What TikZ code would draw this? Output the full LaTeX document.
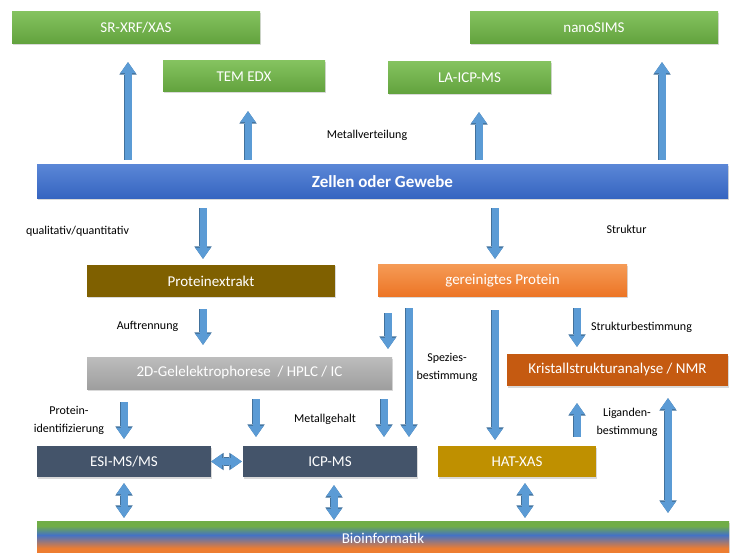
\documentclass[tikz,border=0pt]{standalone}
\usepackage{fontspec}
\setmainfont{Carlito}
\usetikzlibrary{arrows.meta, shadows}
\definecolor{arrowblue}{HTML}{5B9BD5}
\definecolor{arrowedge}{HTML}{41719C}
\definecolor{greentop}{HTML}{84C25F}
\definecolor{greenbot}{HTML}{62A23D}
\definecolor{zellentop}{HTML}{5A86D6}
\definecolor{zellenbot}{HTML}{3564C0}
\definecolor{extraktbrown}{HTML}{7F6000}
\definecolor{proteintop}{HTML}{F59A55}
\definecolor{proteinbot}{HTML}{EC7424}
\definecolor{geltop}{HTML}{BDBDBD}
\definecolor{gelbot}{HTML}{9E9E9E}
\definecolor{kristallorange}{HTML}{C55A11}
\definecolor{msslate}{HTML}{44546A}
\definecolor{hatgold}{HTML}{BF9000}
\definecolor{biogreen}{HTML}{70AD47}
\definecolor{bioblue}{HTML}{4472C4}
\definecolor{bioorange}{HTML}{ED7D31}
\pgfdeclareverticalshading{bioshade}{100bp}{color(0bp)=(bioorange); color(36bp)=(bioorange); color(55bp)=(bioblue); color(68bp)=(biogreen); color(100bp)=(biogreen)}
\tikzset{
  box/.style={rectangle, inner sep=0pt, minimum height=32pt, text=white,
    font=\fontsize{15}{18}\selectfont,
    drop shadow={opacity=0.3, shadow xshift=1pt, shadow yshift=-1.5pt}},
  lbl/.style={font=\fontsize{12}{18}\selectfont, align=center},
  fat/.style={draw=arrowblue, line width=7pt,
    -{Triangle[length=11pt, width=15.5pt, line width=0pt]},
    preaction={draw=arrowedge, line width=8.6pt,
      -{Triangle[length=12.5pt, width=17.5pt, line width=0pt]}}},
  fatboth/.style={draw=arrowblue, line width=7pt,
    {Triangle[length=11pt, width=15.5pt, line width=0pt]}-{Triangle[length=11pt, width=15.5pt, line width=0pt]},
    preaction={draw=arrowedge, line width=8.6pt,
      {Triangle[length=12.5pt, width=17.5pt, line width=0pt]}-{Triangle[length=12.5pt, width=17.5pt, line width=0pt]}}}
}
\begin{document}
\begin{tikzpicture}[x=1pt, y=-1pt]
\useasboundingbox (0,0) rectangle (731,553);
\node[box, minimum width=248pt, top color=greentop, bottom color=greenbot] (srxrf) at (136,28) {SR-XRF/XAS};
\node[box, minimum width=162pt, minimum height=31pt, top color=greentop, bottom color=greenbot] (temedx) at (244,76.5) {TEM EDX};
\node[box, minimum width=163pt, top color=greentop, bottom color=greenbot] (laicp) at (469.5,78) {LA-ICP-MS};
\node[box, minimum width=248pt, top color=greentop, bottom color=greenbot] (nanosims) at (594,28) {nanoSIMS};
\node[box, minimum width=691pt, minimum height=34pt, top color=zellentop, bottom color=zellenbot, font=\fontsize{17}{20}\selectfont\bfseries] (zellen) at (382.5,182) {Zellen oder Gewebe};
\node[box, minimum width=248pt, fill=extraktbrown] (extrakt) at (211,281) {Proteinextrakt};
\node[box, minimum width=249pt, top color=proteintop, bottom color=proteinbot] (gereinigt) at (502.5,281) {gereinigtes Protein};
\node[box, minimum width=305pt, top color=geltop, bottom color=gelbot] (gel) at (239.5,373) {2D-Gelelektrophorese~ / HPLC / IC};
\node[box, minimum width=221pt, fill=kristallorange] (kristall) at (617.5,370) {Kristallstrukturanalyse / NMR};
\node[box, minimum width=174pt, minimum height=31pt, fill=msslate] (esi) at (124,461.5) {ESI-MS/MS};
\node[box, minimum width=174pt, minimum height=31pt, fill=msslate] (icpms) at (330,461.5) {ICP-MS};
\node[box, minimum width=158pt, minimum height=31pt, fill=hatgold] (hatxas) at (517,461.5) {HAT-XAS};
\node[box, minimum width=692pt, minimum height=35pt, shading=bioshade] (bio) at (383,538.5) {Bioinformatik};

\node[lbl] (metall) at (367,135) {Metallverteilung};
\node[lbl] (quali) at (77.5,231) {qualitativ/quantitativ};
\node[lbl] (struktur) at (626.5,229) {Struktur};
\node[lbl] (auftrennung) at (147.5,326) {Auftrennung};
\node[lbl] (strukturbest) at (641.5,327) {Strukturbestimmung};
\node[lbl] (spezies) at (447,367) {Spezies-\\bestimmung};
\node[lbl] (proteinid) at (69,420) {Protein-\\identifizierung};
\node[lbl] (metallgehalt) at (325,419) {Metallgehalt};
\node[lbl] (liganden) at (627,422) {Liganden-\\bestimmung};

\draw[fat, shorten <=5pt, shorten >=18pt] (zellen.north -| 128,0) -- (srxrf.south -| 128,0);
\draw[fat, shorten <=5pt, shorten >=19pt] (zellen.north -| 248,0) -- (temedx.south -| 248,0);
\draw[fat, shorten <=5pt, shorten >=18pt] (zellen.north -| 479,0) -- (laicp.south -| 479,0);
\draw[fat, shorten <=5pt, shorten >=18pt] (zellen.north -| 662,0) -- (nanosims.south -| 662,0);
\draw[fat, shorten <=9pt, shorten >=6pt] (zellen.south -| 203,0) -- (extrakt.north -| 203,0);
\draw[fat, shorten <=9pt, shorten >=6pt] (zellen.south -| 495,0) -- (gereinigt.north -| 495,0);
\draw[fat, shorten <=12pt, shorten >=12pt] (extrakt.south -| 203,0) -- (gel.north -| 203,0);
\draw[fat, shorten <=16pt, shorten >=8pt] (gereinigt.south -| 388,0) -- (gel.north -| 388,0);
\draw[fat, shorten <=11pt, shorten >=9pt] (gereinigt.south -| 409,0) -- (icpms.north -| 409,0);
\draw[fat, shorten <=13pt, shorten >=6pt] (gereinigt.south -| 495,0) -- (hatxas.north -| 495,0);
\draw[fat, shorten <=11pt, shorten >=7pt] (gereinigt.south -| 577,0) -- (kristall.north -| 577,0);
\draw[fat, shorten <=13pt, shorten >=7pt] (gel.south -| 124,0) -- (esi.north -| 124,0);
\draw[fat, shorten <=10pt, shorten >=9pt] (gel.south -| 256,0) -- (icpms.north -| 256,0);
\draw[fat, shorten <=10pt, shorten >=9pt] (gel.south -| 384,0) -- (icpms.north -| 384,0);
\draw[fat, shorten <=9pt, shorten >=17pt] (hatxas.north -| 577,0) -- (kristall.south -| 577,0);
\draw[fatboth, shorten <=12pt, shorten >=8pt] (kristall.south -| 668,0) -- (bio.north -| 668,0);
\draw[fatboth, shorten <=6pt, shorten >=3pt] (esi.south) -- (bio.north -| esi.south);
\draw[fatboth, shorten <=8pt, shorten >=1pt] (icpms.south -| 334,0) -- (bio.north -| 334,0);
\draw[fatboth, shorten <=6pt, shorten >=3pt] (hatxas.south -| 525,0) -- (bio.north -| 525,0);
\draw[fatboth, shorten >=1pt] (esi.east) -- (icpms.west);
\end{tikzpicture}
\end{document}
